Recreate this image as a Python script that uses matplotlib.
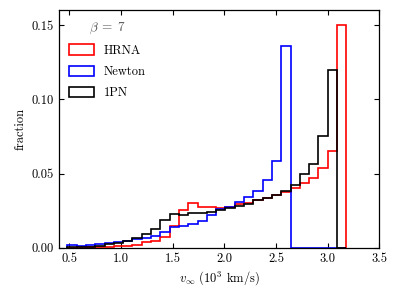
import numpy as np
import matplotlib
matplotlib.use("Agg")
import matplotlib.pyplot as plt

plt.rcParams['font.family'] = 'cmr10'
plt.rcParams['mathtext.fontset'] = 'cm'
plt.rcParams['axes.formatter.use_mathtext'] = True
plt.rcParams['font.size'] = 9

# bins: 30 bins of width 0.09 starting at 0.48 (10^3 km/s)
bin_start = 0.48
bin_width = 0.09
n_bins = 30
edges = bin_start + bin_width * np.arange(n_bins + 1)

hrna = [0.0002, 0.0003, 0.0004, 0.0006, 0.0008, 0.0011, 0.0014, 0.0023, 0.0038, 0.0050,
        0.0072, 0.0148, 0.0258, 0.0300, 0.0273, 0.0278, 0.0272, 0.0278, 0.0298, 0.0305,
        0.0320, 0.0334, 0.0355, 0.0375, 0.0400, 0.0435, 0.0470, 0.0540, 0.0650, 0.1500]
newton = [0.0020, 0.0015, 0.0020, 0.0027, 0.0030, 0.0040, 0.0050, 0.0060, 0.0070, 0.0078,
          0.0105, 0.0140, 0.0145, 0.0163, 0.0182, 0.0223, 0.0264, 0.0278, 0.0308, 0.0345,
          0.0385, 0.0458, 0.0583, 0.1360, 0.0, 0.0, 0.0, 0.0, 0.0, 0.0]
pn1 = [0.0009, 0.0009, 0.0009, 0.0015, 0.0025, 0.0036, 0.0047, 0.0065, 0.0092, 0.0128,
       0.0188, 0.0225, 0.0222, 0.0232, 0.0238, 0.0245, 0.0256, 0.0270, 0.0280, 0.0293,
       0.0320, 0.0336, 0.0357, 0.0384, 0.0424, 0.0500, 0.0563, 0.0750, 0.1200, 0.0]

series = [("HRNA", hrna, "red"), ("Newton", newton, "blue"), ("1PN", pn1, "black")]

fig = plt.figure(figsize=(3.99, 2.98), dpi=100)
ax = fig.add_axes([0.148, 0.168, 0.803, 0.798])

centers = 0.5 * (edges[:-1] + edges[1:])
for name, vals, col in series:
    ax.hist(centers, bins=edges, weights=vals, histtype='step',
            color=col, lw=1.2, label=name)

ax.set_xlim(0.4, 3.5)
ax.set_ylim(0, 0.16)
ax.set_xticks([0.5, 1.0, 1.5, 2.0, 2.5, 3.0, 3.5])
ax.set_yticks([0.0, 0.05, 0.10, 0.15])
ax.set_xticklabels(["0.5", "1.0", "1.5", "2.0", "2.5", "3.0", "3.5"])
ax.set_yticklabels(["0.00", "0.05", "0.10", "0.15"])
ax.tick_params(direction='in', top=True, right=True, length=3.5, width=0.8)
for s in ax.spines.values():
    s.set_linewidth(0.9)

ax.set_xlabel(r"$v_\infty$ ($10^3$ km/s)", labelpad=3)
ax.set_ylabel("fraction", labelpad=4)

leg = ax.legend(loc='upper left', frameon=False, title=r"$\beta\;=\;7$",
                handlelength=2.0, handleheight=0.9, labelspacing=0.7,
                borderaxespad=0.4, fontsize=9, title_fontsize=9.5)
leg.get_title().set_color('#555555')

fig.savefig("out.png", dpi=100)
